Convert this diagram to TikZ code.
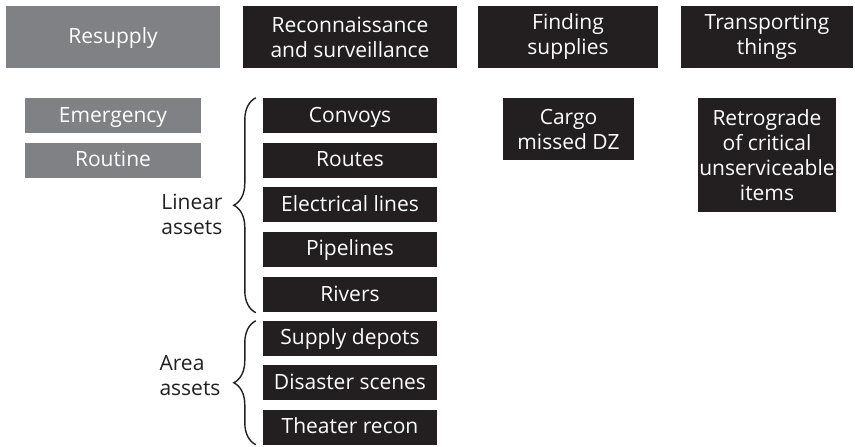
\documentclass[tikz,border=0pt]{standalone}
\usepackage{fontspec}
\setmainfont{Open Sans}
\usepackage{tikz}
\usetikzlibrary{decorations.pathreplacing}

\definecolor{boxgray}{HTML}{808184}
\definecolor{boxdark}{HTML}{231F20}

\tikzset{
  graybox/.style={rectangle, fill=boxgray, text=white, inner sep=0pt, align=center,
    font=\fontsize{21}{25}\selectfont},
  darkbox/.style={rectangle, fill=boxdark, text=white, inner sep=0pt, align=center,
    font=\fontsize{21}{25}\selectfont},
  oneline/.style={text height=17pt, text depth=4pt},
  assetbrace/.style={decorate, decoration={brace, amplitude=22pt}, draw=boxdark, line width=1.4pt},
  bracelabel/.style={align=left, inner sep=0pt, font=\fontsize{21}{25}\selectfont, text=boxdark}
}

\begin{document}
\begin{tikzpicture}[x=1pt, y=-1pt]
\useasboundingbox (0,0) rectangle (855,447);

% Column headers
\node[graybox, oneline, minimum width=214pt, minimum height=62pt] (resupply) at (113,37) {Resupply};
\node[darkbox, minimum width=214pt, minimum height=62pt] (recon) at (350,37) {Reconnaissance\\and surveillance};
\node[darkbox, minimum width=180pt, minimum height=62pt] (finding) at (568,37) {Finding\\supplies};
\node[darkbox, minimum width=172pt, minimum height=62pt] (transport) at (767,37) {Transporting\\things};

% Resupply
\node[graybox, oneline, minimum width=176pt, minimum height=35pt] (emergency) at (113,115.5) {Emergency};
\node[graybox, oneline, minimum width=176pt, minimum height=35pt] (routine) at (113,160) {Routine};

% Reconnaissance and surveillance
\node[darkbox, oneline, minimum width=174pt, minimum height=35pt] (convoys) at (350,115.5) {Convoys};
\node[darkbox, oneline, minimum width=174pt, minimum height=35pt] (routes) at (350,160) {Routes};
\node[darkbox, oneline, minimum width=174pt, minimum height=35pt] (electrical) at (350,204.5) {Electrical lines};
\node[darkbox, oneline, minimum width=174pt, minimum height=35pt] (pipelines) at (350,249) {Pipelines};
\node[darkbox, oneline, minimum width=174pt, minimum height=35pt] (rivers) at (350,294.5) {Rivers};
\node[darkbox, oneline, minimum width=174pt, minimum height=35pt] (depots) at (350,338) {Supply depots};
\node[darkbox, oneline, minimum width=174pt, minimum height=35pt] (disaster) at (350,382.5) {Disaster scenes};
\node[darkbox, oneline, minimum width=174pt, minimum height=35pt] (theater) at (350,427) {Theater recon};

% Braces
\draw[assetbrace] ([xshift=-7pt, yshift=-0.5pt]rivers.south west) -- ([xshift=-7pt]convoys.north west);
\draw[assetbrace] ([xshift=-7pt]theater.south west) -- ([xshift=-7pt, yshift=-0.5pt]depots.north west);
\node[bracelabel] (linear) at (192,214) {Linear\\assets};
\node[bracelabel] (area) at (190,376) {Area\\assets};

% Finding supplies / Transporting things
\node[darkbox, minimum width=131pt, minimum height=62pt] (cargo) at (568.5,129) {Cargo\\missed DZ};
\node[darkbox, minimum width=138pt, minimum height=114pt] (retro) at (767,155) {Retrograde\\of critical\\unserviceable\\items};

\end{tikzpicture}
\end{document}
